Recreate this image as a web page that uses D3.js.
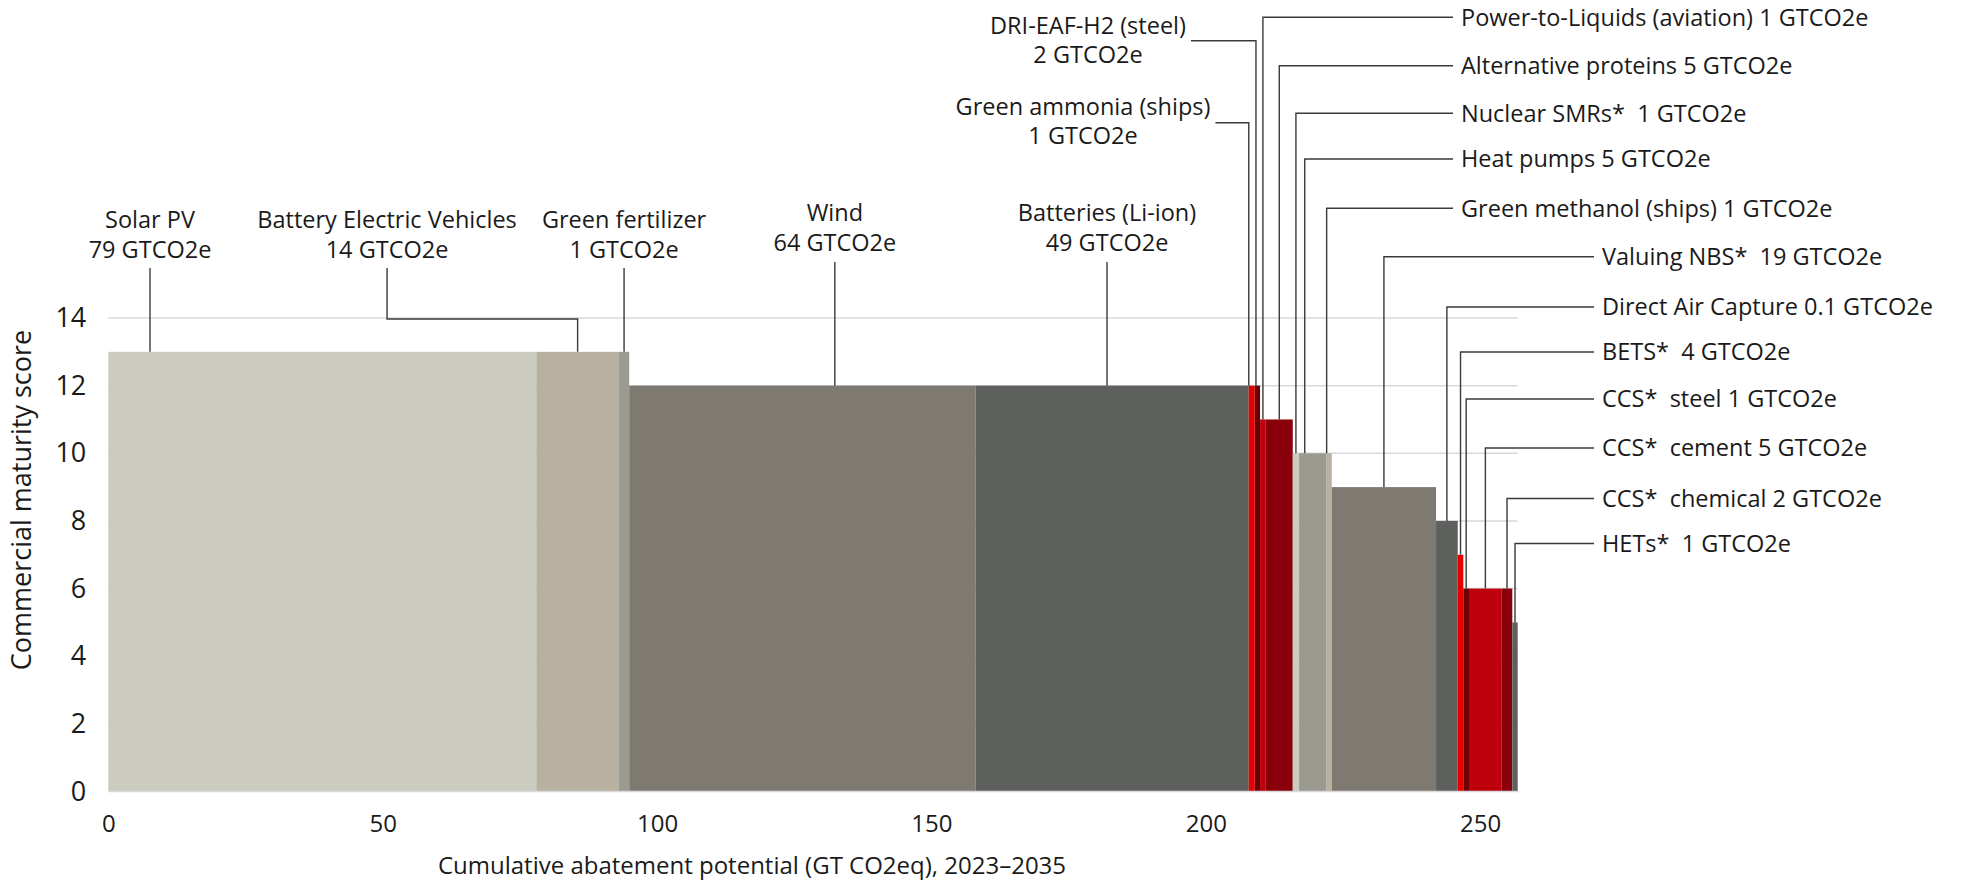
<!DOCTYPE html>
<html><head><meta charset="utf-8">
<script src="https://cdn.jsdelivr.net/npm/d3@7"></script>
<style>
html,body{margin:0;padding:0;background:#fff;}
svg text{font-family:"Open Sans",sans-serif;fill:#1a1a1a;white-space:pre;}
</style></head><body>
<svg id="chart" width="1966" height="883"></svg>
<script>
// ---------- data ----------
const technologies = ["Solar PV","Battery Electric Vehicles","Green fertilizer","Wind","Batteries (Li-ion)",
  "Green ammonia (ships)","DRI-EAF-H2 (steel)","Power-to-Liquids (aviation)","Alternative proteins","Nuclear SMRs*",
  "Heat pumps","Green methanol (ships)","Valuing NBS*","Direct Air Capture","BETS*","CCS*  steel","CCS*  cement",
  "CCS*  chemical","HETs*"];
const potentialLabels = ["79","14","1","64","49","1","2","1","5","1","5","1","19","0.1","4","1","5","2","1"];
const barWidths = [78, 15.05, 1.88, 63.1, 49.8, 1.09, 0.97, 1.04, 4.92, 1.15, 4.92, 1.04, 19.0, 3.95, 1.02, 1.04, 5.96, 1.93, 0.98];
const maturityScores = [13,13,13,12,12,12,12,11,11,10,10,10,9,8,7,6,6,6,5];
const barColors = ["#cccbbf","#b8b1a1","#9a9a90","#7e7a72","#5e605e","#e60000","#6b0000","#bd000c","#8a000a",
  "#cccbbf","#9a9a90","#b8b1a1","#7e7a72","#5e605e","#e60000","#6b0000","#bd000c","#8a000a","#5e605e"];
const xTickValues = [0,50,100,150,200,250];
const yTickValues = [0,2,4,6,8,10,12,14];
const unit = "GTCO2e";

// ---------- layout ----------
const svg = d3.select("#chart");
const total = d3.sum(barWidths);
const x = d3.scaleLinear().domain([0, total]).range([108.3, 1517.7]);
const y = d3.scaleLinear().domain([0, 14]).range([791.5, 318]);
const starts = barWidths.map((w,i)=>d3.sum(barWidths.slice(0,i)));
const bars = technologies.map((t,i)=>({name:t, label:potentialLabels[i], w:barWidths[i], s:maturityScores[i], c:barColors[i], x0:starts[i]}));

// gridlines
svg.append("g").selectAll("line").data(yTickValues.filter(v=>v>0)).join("line")
  .attr("x1", x(0)).attr("x2", x(total)).attr("y1", d=>y(d)).attr("y2", d=>y(d))
  .attr("stroke", "#d9d9d9").attr("stroke-width", 1.5);

// bars
svg.append("g").selectAll("rect").data(bars).join("rect")
  .attr("x", d=>x(d.x0)).attr("width", d=>x(d.x0+d.w)-x(d.x0))
  .attr("y", d=>y(d.s)).attr("height", d=>y(0)-y(d.s))
  .attr("fill", d=>d.c);

// baseline
svg.append("line").attr("x1", x(0)).attr("x2", x(total)).attr("y1", y(0)).attr("y2", y(0))
  .attr("stroke", "#d9d9d9").attr("stroke-width", 1.5);

// axes
const xAxis = svg.append("g").attr("transform", `translate(0,${y(0)})`)
  .call(d3.axisBottom(x).tickValues(xTickValues).tickSize(0).tickPadding(23.5).tickFormat(d3.format("d")));
xAxis.select(".domain").remove();
xAxis.selectAll("text").attr("font-size", 24).attr("font-family", null);

const yAxis = svg.append("g").attr("transform", `translate(${x(0)},0)`)
  .call(d3.axisLeft(y).tickValues(yTickValues).tickSize(0).tickPadding(22));
yAxis.select(".domain").remove();
yAxis.selectAll("text").attr("font-size", 27).attr("font-family", null);

svg.append("text").attr("x", 752).attr("y", 874).attr("text-anchor", "middle").attr("font-size", 24)
  .text("Cumulative abatement potential (GT CO2eq), 2023–2035");
svg.append("text").attr("transform", "translate(31,500) rotate(-90)").attr("text-anchor", "middle").attr("font-size", 27)
  .text("Commercial maturity score");

// ---------- annotations ----------
const lead = svg.append("g").attr("fill", "none").attr("stroke", "#3a3a3a").attr("stroke-width", 1.4);
const ann = svg.append("g").attr("font-size", 23.5);
const anchorX = (i, f=0.5) => x(bars[i].x0 + bars[i].w * f);

// labels above bars (two-line, centred)
const topLayout = [
  {i:0, at:7.6, base:228, from:268},
  {i:1, at:50.8, base:228, from:268, elbow:319},
  {i:2, at:null, base:228, from:268},
  {i:3, at:132.4, base:221, from:262},
  {i:4, at:182, base:221, from:262}
];
topLayout.forEach(L=>{
  const b = bars[L.i];
  const cx = L.at===null ? anchorX(L.i) : x(L.at);
  const t = ann.append("text").attr("text-anchor","middle");
  t.append("tspan").attr("x", cx).attr("y", L.base).text(b.name);
  t.append("tspan").attr("x", cx).attr("y", L.base+29.5).text(`${b.label} ${unit}`);
  const ax = anchorX(L.i);
  const pts = L.elbow ? [[cx,L.from],[cx,L.elbow],[ax,L.elbow],[ax,y(b.s)]] : [[cx,L.from],[cx,y(b.s)]];
  lead.append("path").attr("d", d3.line()(pts));
});

// labels to the left of the red cluster (two-line, centred)
const sideLayout = [
  {i:5, cx:1083, base:115, lineY:122.7, f:0},
  {i:6, cx:1088, base:33.5, lineY:40.7, f:0.23}
];
sideLayout.forEach(L=>{
  const b = bars[L.i];
  const t = ann.append("text").attr("text-anchor","middle");
  t.append("tspan").attr("x", L.cx).attr("y", L.base).text(b.name);
  t.append("tspan").attr("x", L.cx).attr("y", L.base+29).text(`${b.label} ${unit}`);
  const right = t.node().getBBox().x + t.node().getBBox().width;
  const ax = anchorX(L.i, L.f);
  lead.append("path").attr("d", d3.line()([[right+5,L.lineY],[ax,L.lineY],[ax,y(b.s)]]));
});

// labels on the right (single line)
const rightLayout = [
  {i:7, ly:17.3, tx:1461, f:0.5},
  {i:8, ly:65.7, tx:1461, f:0.5},
  {i:9, ly:113.3, tx:1461, f:0.5},
  {i:10, ly:159, tx:1461, f:0.21},
  {i:11, ly:208.3, tx:1461, f:0.1},
  {i:12, ly:256.7, tx:1602, f:0.5},
  {i:13, ly:307, tx:1602, f:0.5},
  {i:14, ly:352, tx:1602, f:0.5},
  {i:15, ly:399, tx:1602, f:0.5},
  {i:16, ly:448, tx:1602, f:0.5},
  {i:17, ly:498.5, tx:1602, f:0.5},
  {i:18, ly:543.5, tx:1602, f:0.5}
];
rightLayout.forEach(L=>{
  const b = bars[L.i];
  const sep = b.name.endsWith("*") ? "  " : " ";
  ann.append("text").attr("x", L.tx).attr("y", L.ly).attr("dy","0.35em").text(`${b.name}${sep}${b.label} ${unit}`);
  const ax = anchorX(L.i, L.f);
  lead.append("path").attr("d", d3.line()([[L.tx-8,L.ly],[ax,L.ly],[ax,y(b.s)]]));
});
</script>
</body></html>
